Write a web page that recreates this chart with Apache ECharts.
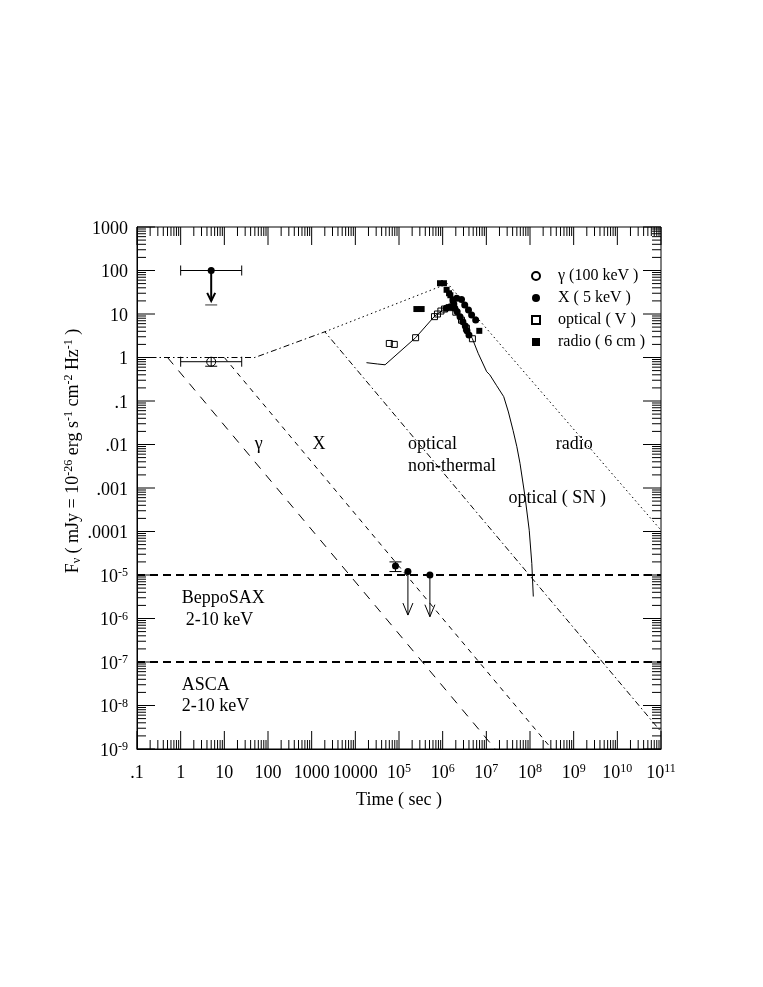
<!DOCTYPE html>
<html>
<head>
<meta charset="utf-8">
<script src="https://cdn.jsdelivr.net/npm/echarts@6.0.0/dist/echarts.min.js"></script>
<style>
html, body { margin: 0; padding: 0; background: #fff; }
#main { width: 763px; height: 987px; }
</style>
</head>
<body>
<div id="main"></div>
<script>
var FONT = 'Liberation Serif';

// tick labels, one per decade ("10{s|5}" = 10 with superscript 5)
var xTickLabels = ['.1', '1', '10', '100', '1000', '10000', '10{s|5}', '10{s|6}', '10{s|7}',
                   '10{s|8}', '10{s|9}', '10{s|10}', '10{s|11}'];
var yTickLabels = ['10{s|-9}', '10{s|-8}', '10{s|-7}', '10{s|-6}', '10{s|-5}', '.0001', '.001',
                   '.01', '.1', '1', '10', '100', '1000'];
var xDecades = [-1, 0, 1, 2, 3, 4, 5, 6, 7, 8, 9, 10, 11];
var yDecades = [-9, -8, -7, -6, -5, -4, -3, -2, -1, 0, 1, 2, 3];
var minorSteps = [2, 3, 4, 5, 6, 7, 8, 9];

// gamma (100 keV)
var gammaPts = [[5, 0.8]];
var gammaErr = [[5, 0.8, 1, 25, 0.63, 1.0]];   // x, y, xlo, xhi, ylo, yhi

// X (5 keV)
var xrayPts = [[5, 100], [8.3e4, 1.6e-5], [1.6e5, 1.2e-5], [5.1e5, 1.0e-5],
               [1.73e6, 21], [2.1e6, 23], [2.7e6, 21.5], [3.2e6, 16], [3.9e6, 12.3], [4.6e6, 9.5], [5.7e6, 7.3],
               [1.2e6, 13.5], [1.5e6, 14.7], [1.8e6, 17], [1.9e6, 13.5], [2.15e6, 11.3], [2.5e6, 8.7],
               [2.9e6, 6.6], [3.3e6, 5.3], [3.6e6, 4.1], [4.0e6, 3.3]];
var xrayErr = [[5, 100, 1, 25, 100, 100], [8.3e4, 1.6e-5, 8.3e4, 8.3e4, 1.2e-5, 2.0e-5]];
var xrayUL = [[5, 100, 20, 1], [1.6e5, 1.2e-5, 1.2e-6, 0], [5.1e5, 1.0e-5, 1.1e-6, 0]]; // x, y, limit to, bold

// optical (V)
var opticalPts = [[6.0e4, 2.1], [7.8e4, 2.0], [2.4e5, 2.85], [6.5e5, 8.7], [7.6e5, 10], [9.1e5, 11.7],
                  [1.1e6, 13], [1.4e6, 14], [2.0e6, 11], [2.7e6, 7.2], [3.5e6, 4.7], [4.8e6, 2.7]];

// radio (6 cm)
var radioPts = [[2.5e5, 13], [3.3e5, 13], [8.7e5, 51], [1.07e6, 51], [1.23e6, 36], [1.4e6, 30],
                [1.5e6, 27], [1.7e6, 21], [6.9e6, 4.1]];

// model curves
var gammaModel = [[0.5, 1], [1.6e7, 1e-9]];
var xrayModel = [[10, 1], [3.16e8, 1e-9]];
var opticalModel = [[0.1, 1], [50, 1], [2000, 3.9], [1e11, 2.5e-9]];
var radioModel = [[2000, 3.9], [1.3e6, 50], [1e11, 1.07e-4]];
var snCurve = [[1.8e4, 0.76], [3.2e4, 0.71], [4.8e4, 0.68], [2.4e5, 2.85], [6.4e5, 8.7], [9.5e5, 12],
               [1.5e6, 14.7], [1.75e6, 15.2], [2.5e6, 9.5], [3.55e6, 4.7], [4.8e6, 2.7], [6.5e6, 1.25],
               [1.02e7, 0.47], [1.2e7, 0.40], [1.7e7, 0.23], [2.5e7, 0.126], [3.2e7, 0.056], [4.1e7, 0.021],
               [5.0e7, 8.9e-3], [5.9e7, 3.7e-3], [7.7e7, 6.3e-4], [9.6e7, 1.07e-4], [1.1e8, 1.85e-5],
               [1.19e8, 3.2e-6]];
var beppoLimit = [[0.1, 1e-5], [1e11, 1e-5]];
var ascaLimit = [[0.1, 1e-7], [1e11, 1e-7]];

// annotations: x, y (left edge, middle), text
var notes = [[50, 0.01, 'γ'], [1050, 0.01, 'X'], [1.6e5, 0.01, 'optical'], [1.6e5, 3.1e-3, 'non-thermal'],
             [3.9e8, 0.01, 'radio'], [3.2e7, 5.7e-4, 'optical ( SN )'], [1.06, 2.95e-6, 'BeppoSAX'],
             [1.3, 9.3e-7, '2-10 keV'], [1.06, 2.95e-8, 'ASCA'], [1.06, 9.4e-9, '2-10 keV']];

// tick marks (major 18px, minor 9px) on all four sides; labels on major ones
var xTicks = [], yTicks = [];
xDecades.forEach(function (d, i) {
    xTicks.push([Math.pow(10, d), 1, 18, i]);
    if (i < xDecades.length - 1) {
        minorSteps.forEach(function (m) { xTicks.push([m * Math.pow(10, d), 1, 9, -1]); });
    }
});
yDecades.forEach(function (d, i) {
    yTicks.push([1, Math.pow(10, d), 18, i]);
    if (i < yDecades.length - 1) {
        minorSteps.forEach(function (m) { yTicks.push([1, m * Math.pow(10, d), 9, -1]); });
    }
});

var supRich = {
    b: { fontFamily: FONT, fontSize: 18, fill: '#000', lineHeight: 20 },
    s: { fontFamily: FONT, fontSize: 12, fill: '#000', lineHeight: 12, verticalAlign: 'top' },
    u: { fontFamily: FONT, fontSize: 12, fill: '#000', lineHeight: 12, verticalAlign: 'bottom' }
};

function richLabel(t) {
    return t.indexOf('{s|') >= 0 ? '{b|10}' + t.slice(2) : '{b|' + t + '}';
}

function seg(x1, y1, x2, y2, w, c) {
    return { type: 'line', shape: { x1: x1, y1: y1, x2: x2, y2: y2 },
             style: { stroke: c || '#000', lineWidth: w || 1 } };
}

function renderXTick(params, api) {
    var cs = params.coordSys;
    var px = api.coord([api.value(0), 1])[0];
    var len = api.value(2), li = api.value(3);
    var b = cs.y + cs.height;
    var kids = [seg(px, b, px, b - len), seg(px, cs.y, px, cs.y + len)];
    if (li >= 0) {
        kids.push({ type: 'text', x: px, y: b + 24,
                    style: { text: richLabel(xTickLabels[li]), rich: supRich, align: 'center', verticalAlign: 'middle' } });
    }
    return { type: 'group', children: kids };
}

function renderYTick(params, api) {
    var cs = params.coordSys;
    var py = api.coord([1, api.value(1)])[1];
    var len = api.value(2), li = api.value(3);
    var r = cs.x + cs.width;
    var kids = [seg(cs.x, py, cs.x + len, py), seg(r, py, r - len, py)];
    if (li >= 0) {
        kids.push({ type: 'text', x: cs.x - 9, y: py + 2,
                    style: { text: richLabel(yTickLabels[li]), rich: supRich, align: 'right', verticalAlign: 'middle' } });
    }
    return { type: 'group', children: kids };
}

function renderNote(params, api) {
    var p = api.coord([api.value(0), api.value(1)]);
    return { type: 'text', x: p[0], y: p[1],
             style: { text: notes[params.dataIndex][2], fontFamily: FONT, fontSize: 18, fill: '#000',
                      align: 'left', verticalAlign: 'middle' } };
}

function renderErr(params, api) {
    var x = api.value(0), y = api.value(1);
    var xlo = api.value(2), xhi = api.value(3), ylo = api.value(4), yhi = api.value(5);
    var kids = [];
    if (xhi > xlo) {
        var a = api.coord([xlo, y]), b = api.coord([xhi, y]);
        kids.push(seg(a[0], a[1], b[0], b[1]), seg(a[0], a[1] - 5, a[0], a[1] + 5),
                  seg(b[0], b[1] - 5, b[0], b[1] + 5));
    }
    if (yhi > ylo) {
        var c = api.coord([x, ylo]), d = api.coord([x, yhi]);
        kids.push(seg(c[0], c[1], d[0], d[1]), seg(c[0] - 6, c[1], c[0] + 6, c[1]),
                  seg(d[0] - 6, d[1], d[0] + 6, d[1]));
    }
    return { type: 'group', children: kids };
}

function renderUL(params, api) {
    var p = api.coord([api.value(0), api.value(1)]);
    var q = api.coord([api.value(0), api.value(2)]);
    var bold = api.value(3) === 1;
    var w = bold ? 2 : 1, hw = bold ? 4 : 5, hl = bold ? 8 : 12;
    var kids = [seg(p[0], p[1], q[0], q[1], w),
        { type: 'polyline', shape: { points: [[q[0] - hw, q[1] - hl], [q[0], q[1]], [q[0] + hw, q[1] - hl]] },
          style: { stroke: '#000', lineWidth: w, fill: null } }];
    if (bold) kids.push(seg(q[0] - 6, q[1] + 4, q[0] + 6, q[1] + 4, 1.5, '#777'));
    return { type: 'group', children: kids };
}

function lineSeries(data, type, width) {
    return { type: 'line', data: data, showSymbol: false, symbol: 'none', z: 2, silent: true,
             lineStyle: { color: '#000', width: width || 1, type: type } };
}

var myChart = echarts.init(document.getElementById('main'), null, { renderer: 'canvas' });

var option = {
    animation: false,
    backgroundColor: '#fff',
    grid: { left: 137, top: 227, width: 524, height: 522, show: true, borderColor: '#000', borderWidth: 1 },
    xAxis: {
        type: 'log', logBase: 10, min: 0.1, max: 1e11,
        axisLine: { show: true, lineStyle: { color: '#000', width: 1 } },
        axisTick: { show: false }, splitLine: { show: false }, axisLabel: { show: false },
        name: 'Time ( sec )', nameLocation: 'middle', nameGap: 42,
        nameTextStyle: { fontFamily: FONT, fontSize: 18, color: '#000' }
    },
    yAxis: {
        type: 'log', logBase: 10, min: 1e-9, max: 1000,
        axisLine: { show: true, lineStyle: { color: '#000', width: 1 } },
        axisTick: { show: false }, splitLine: { show: false }, axisLabel: { show: false }
    },
    legend: {
        data: ['γ (100 keV )', 'X ( 5 keV )', 'optical ( V )', 'radio ( 6 cm )'],
        orient: 'vertical', left: 526, top: 263, itemWidth: 8, itemHeight: 8, itemGap: 6,
        selectedMode: false,
        textStyle: { fontFamily: FONT, fontSize: 16, lineHeight: 16, color: '#000', padding: [0, 0, 0, 13] }
    },
    graphic: [{
        type: 'text', x: 73, y: 451, rotation: Math.PI / 2,
        style: {
            text: '{b|F}{u|ν}{b| ( mJy = 10}{s|-26}{b| erg s}{s|-1}{b| cm}{s|-2}{b| Hz}{s|-1}{b| )}',
            align: 'center', verticalAlign: 'middle', rich: supRich
        }
    }],
    series: [
        lineSeries(gammaModel, [9, 8]),
        lineSeries(xrayModel, [5, 5]),
        lineSeries(opticalModel, [6, 3, 1.5, 3]),
        lineSeries(radioModel, [1.5, 3]),
        lineSeries(snCurve, 'solid'),
        lineSeries(beppoLimit, [8, 5], 2),
        lineSeries(ascaLimit, [8, 5], 2),
        { type: 'custom', renderItem: renderErr, data: gammaErr.concat(xrayErr), encode: { x: 0, y: 1 }, z: 3 },
        { type: 'custom', renderItem: renderUL, data: xrayUL, encode: { x: 0, y: 1 }, z: 3 },
        { name: 'γ (100 keV )', type: 'scatter', data: gammaPts, symbol: 'circle', symbolSize: 9, z: 4,
          itemStyle: { color: 'rgba(255,255,255,0)', borderColor: '#000', borderWidth: 1, opacity: 1 } },
        { name: 'X ( 5 keV )', type: 'scatter', data: xrayPts, symbol: 'circle', symbolSize: 7, z: 4,
          itemStyle: { color: '#000', opacity: 1 } },
        { name: 'optical ( V )', type: 'scatter', data: opticalPts, symbol: 'rect', symbolSize: 6, z: 5,
          itemStyle: { color: 'rgba(255,255,255,0)', borderColor: '#000', borderWidth: 1, opacity: 1 } },
        { name: 'radio ( 6 cm )', type: 'scatter', data: radioPts, symbol: 'rect', symbolSize: 6, z: 4,
          itemStyle: { color: '#000', opacity: 1 } },
        { type: 'custom', renderItem: renderNote, data: notes.map(function (n) { return [n[0], n[1]]; }),
          encode: { x: 0, y: 1 }, z: 6, silent: true },
        { type: 'custom', renderItem: renderXTick, data: xTicks, encode: { x: 0, y: 1 }, z: 7, silent: true, clip: false },
        { type: 'custom', renderItem: renderYTick, data: yTicks, encode: { x: 0, y: 1 }, z: 7, silent: true, clip: false }
    ]
};

myChart.setOption(option);
</script>
</body>
</html>
